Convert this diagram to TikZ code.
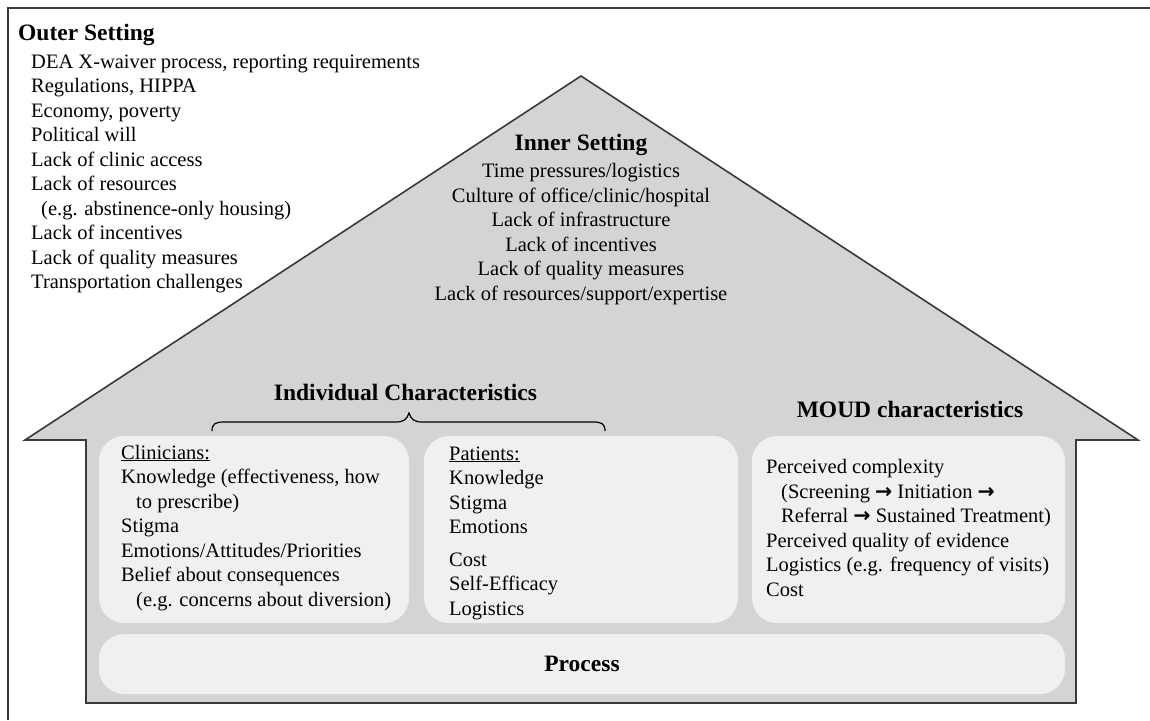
\documentclass[tikz,border=0pt]{standalone}
\usepackage{fontspec}
\setmainfont{Liberation Serif}
\newfontfamily\arrowfont{DejaVu Sans}
\newcommand{\flowarrow}{{\arrowfont\bfseries →}}
\begin{document}
\begin{tikzpicture}[x=1pt,y=-1pt,
  body/.style={inner sep=0pt, align=left, font=\fontsize{20.5}{24.5}\selectfont},
  heading/.style={inner sep=0pt, font=\fontsize{23.5}{28}\selectfont\bfseries},
  panel/.style={fill=panelgray, draw=none, rounded corners=25pt, inner sep=0pt},
  housefill/.style={fill=housegray, draw=edgegray, line width=1.6pt, line join=miter},
]
\definecolor{housegray}{HTML}{D4D4D4}
\definecolor{panelgray}{HTML}{F0F0F0}
\definecolor{edgegray}{HTML}{3A3A3A}
\useasboundingbox (0,0) rectangle (1150,720);
\fill[white] (0,0) rectangle (1150,720);

% outer frame (only top and left edges fall inside the page)
\draw[edgegray, line width=1.4pt] (8,720) -- (8,8) -- (1150,8);

% house outline
\draw[housefill] (25,440) -- (581,76) -- (1138,440) -- (1076,440)
  -- (1076,703) -- (86,703) -- (86,440) -- cycle;

% inner panels
\node[panel, minimum width=310pt, minimum height=187pt] (clin) at (254,529.5) {};
\node[panel, minimum width=314pt, minimum height=187pt] (pat) at (581,529.5) {};
\node[panel, minimum width=313pt, minimum height=187pt] (moud) at (908.5,529.5) {};
\node[panel, minimum width=966pt, minimum height=60pt, heading] (proc) at (582,664) {Process};

% outer setting (multi-line nodes are anchored at the baseline of their last line)
\node[heading, anchor=base west] (outerT) at (18,40) {Outer Setting};
\node[body, anchor=base west] (outerL) at (31,288.5) {%
DEA X-waiver process, reporting requirements\\
Regulations, HIPPA\\
Economy, poverty\\
Political will\\
Lack of clinic access\\
Lack of resources\\
\hspace*{10pt}(e.g. abstinence-only housing)\\
Lack of incentives\\
Lack of quality measures\\
Transportation challenges};

% inner setting
\node[heading, anchor=base] (innerT) at (581,150) {Inner Setting};
\node[body, align=center, anchor=base] (innerL) at (581,300) {%
Time pressures/logistics\\
Culture of office/clinic/hospital\\
Lack of infrastructure\\
Lack of incentives\\
Lack of quality measures\\
Lack of resources/support/expertise};

% individual characteristics with brace
\node[heading, anchor=base] (indT) at (405.5,400) {Individual Characteristics};
\coordinate (brL) at (212,431);
\coordinate (brR) at (605,431);
\coordinate (brM) at (409,413);
\draw[black, line width=1.2pt] (brL) .. controls (212,424) and (215,422) .. (224,422)
  -- (396,422) .. controls (404,422) and (407,419) .. (brM)
  .. controls (411,419) and (414,422) .. (422,422)
  -- (593,422) .. controls (602,422) and (605,424) .. (brR);

\node[heading, anchor=base] (moudT) at (910,417) {MOUD characteristics};

% panel contents
\node[body, anchor=base west] (clinL) at (121,606) {%
\underline{Clinicians:}\\
Knowledge (effectiveness, how\\
\hspace*{15pt}to prescribe)\\
Stigma\\
Emotions/Attitudes/Priorities\\
Belief about consequences\\
\hspace*{15pt}(e.g. concerns about diversion)};

\node[body, anchor=base west] (patL) at (449,615) {%
\underline{Patients:}\\
Knowledge\\
Stigma\\
Emotions\\[8pt]
Cost\\
Self-Efficacy\\
Logistics};

\node[body, anchor=base west] (moudL) at (766,596) {%
Perceived complexity\\
\hspace*{15pt}(Screening \flowarrow{} Initiation \flowarrow\\
\hspace*{15pt}Referral \flowarrow{} Sustained Treatment)\\
Perceived quality of evidence\\
Logistics (e.g. frequency of visits)\\
Cost};
\end{tikzpicture}
\end{document}
